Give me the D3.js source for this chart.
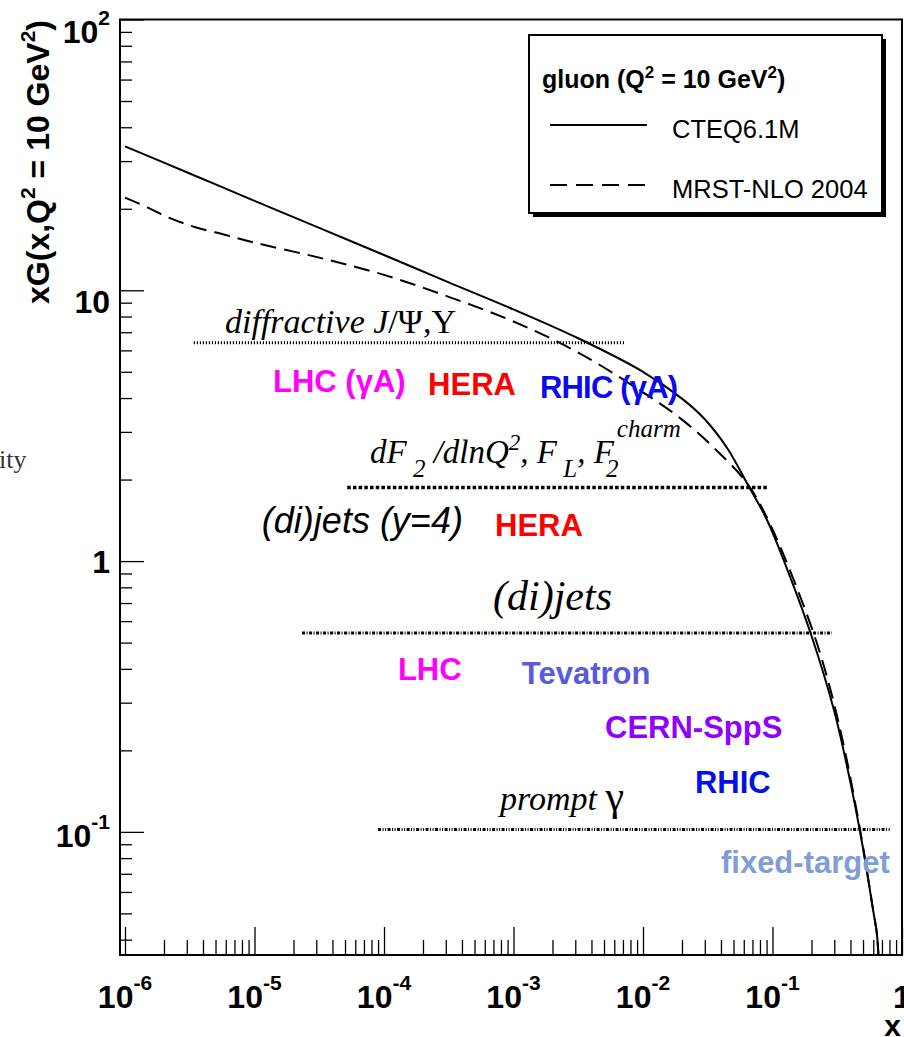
<!DOCTYPE html>
<html><head><meta charset="utf-8">
<script src="https://cdn.jsdelivr.net/npm/d3@7"></script>
<style>body{margin:0;background:#fff}</style>
</head><body>
<svg id="c" width="904" height="1037"></svg>
<script>
// ---------- data ----------
const cteqX = [1e-6, 3.16e-6, 1e-5, 3.16e-5, 1e-4, 3.16e-4, 1e-3, 3.16e-3, 0.01, 0.02, 0.03, 0.045, 0.065, 0.09, 0.137, 0.2, 0.3, 0.4, 0.5, 0.6, 0.64, 0.68];
const cteqV = [34.0, 27.0, 21.4, 17.0, 13.5, 10.7, 8.5, 6.65, 5.0, 3.98, 3.34, 2.60, 1.90, 1.43, 0.873, 0.53, 0.279, 0.152, 0.087, 0.051, 0.042, 0.025];
const mrstX = [1e-6, 1.5e-6, 2.2e-6, 3.5e-6, 6e-6, 1e-5, 3.16e-5, 1e-4, 3.16e-4, 1e-3, 3.16e-3, 0.01, 0.02, 0.035, 0.0635, 0.095, 0.195, 0.264, 0.35, 0.474, 0.6, 0.64, 0.68];
const mrstV = [22.0, 20.2, 18.5, 17.1, 16.0, 15.0, 13.2, 11.4, 9.46, 7.67, 5.89, 4.20, 3.33, 2.63, 1.94, 1.38, 0.59, 0.372, 0.215, 0.102, 0.051, 0.042, 0.025];

const bandNames = ["diffractive", "dF2", "dijets", "prompt"];
const bandXMin  = [3.4e-6, 5.2e-5, 2.33e-5, 9.0e-5];
const bandXMax  = [7.3e-3, 0.092, 0.288, 0.82];
const bandLevel = [6.4, 1.87, 0.542, 0.102];

const xMajor = [1e-6, 1e-5, 1e-4, 1e-3, 1e-2, 1e-1, 1];
const xMajorExp = ["-6", "-5", "-4", "-3", "-2", "-1", ""];
const yMajor = [100, 10, 1, 0.1];
const yMajorBase = ["10", "10", "1", "10"];
const yMajorExp = ["2", "", "", "-1"];

const labelTexts  = ["LHC (\u03B3A)", "HERA", "RHIC (\u03B3A)", "HERA", "LHC", "Tevatron", "CERN-SppS", "RHIC", "fixed-target"];
const labelColors = ["#ff00ff", "#ff0000", "#0a0af0", "#ff0000", "#ff00ff", "#5a5ade", "#9000ff", "#0010e8", "#7f9ed8"];
const labelX      = [1.39e-5, 2.19e-4, 1.6e-3, 7.2e-4, 1.28e-4, 1.16e-3, 5.09e-3, 0.0252, 0.040];
const labelV      = [4.21, 4.10, 4.00, 1.24, 0.363, 0.351, 0.222, 0.139, 0.0703];

// ---------- layout ----------
const svg = d3.select("#c");
const L = 120, R = 902, T = 19.5, B = 955;
const x = d3.scaleLog().domain([1e-6, 1]).range([125, 902]);
const y = d3.scaleLog().domain([0.0351, 100]).range([B, T]);

svg.append("defs").append("clipPath").attr("id", "clip")
  .append("rect").attr("x", L).attr("y", T).attr("width", R - L).attr("height", B - T);

// ---------- axes ----------
const xMinor = [];
for (let e = -6; e < 0; e++) for (let k = 2; k <= 9; k++) xMinor.push(k * Math.pow(10, e));
const yMinor = [];
for (let e = -2; e < 2; e++) for (let k = 2; k <= 9; k++) { const v = k * Math.pow(10, e); if (v > 0.0351) yMinor.push(v); }

function styleAxis(g) { g.select(".domain").remove(); g.selectAll("line").attr("stroke", "#000").attr("stroke-width", 1.3); }
svg.append("g").attr("transform", `translate(0,${B})`)
  .call(d3.axisBottom(x).tickValues(xMinor).tickSize(-15).tickFormat("")).call(styleAxis);
svg.append("g").attr("transform", `translate(0,${B})`)
  .call(d3.axisBottom(x).tickValues(xMajor).tickSize(-28).tickFormat("")).call(styleAxis);
svg.append("g").attr("transform", `translate(${L},0)`)
  .call(d3.axisLeft(y).tickValues(yMinor).tickSize(-12).tickFormat("")).call(styleAxis);
svg.append("g").attr("transform", `translate(${L},0)`)
  .call(d3.axisLeft(y).tickValues(yMajor).tickSize(-24).tickFormat("")).call(styleAxis);

svg.append("rect").attr("x", L).attr("y", T).attr("width", R - L).attr("height", B - T)
  .attr("fill", "none").attr("stroke", "#000").attr("stroke-width", 2);

// x tick labels
const font = "'Liberation Sans', Arial, sans-serif";
xMajor.forEach((v, i) => {
  const t = svg.append("text").attr("x", x(v)).attr("y", 1008).attr("text-anchor", "middle")
    .attr("font-family", font).attr("font-weight", "bold").attr("font-size", 32);
  if (xMajorExp[i] === "") { t.text("1"); }
  else { t.append("tspan").text("10"); t.append("tspan").attr("font-size", 21).attr("dy", -18).text(xMajorExp[i]); }
});
// y tick labels
const yLabelShift = [23, 23, 12, 15];
yMajor.forEach((v, i) => {
  const t = svg.append("text").attr("x", 110).attr("y", y(v) + yLabelShift[i]).attr("text-anchor", "end")
    .attr("font-family", font).attr("font-weight", "bold").attr("font-size", 32);
  t.append("tspan").text(yMajorBase[i]);
  if (yMajorExp[i]) t.append("tspan").attr("font-size", 21).attr("dy", -18).text(yMajorExp[i]);
});
// axis titles
svg.append("text").attr("x", 901).attr("y", 1036).attr("text-anchor", "end")
  .attr("font-family", font).attr("font-weight", "bold").attr("font-size", 30).text("x");
const yt = svg.append("text").attr("transform", "translate(49,20) rotate(-90)").attr("text-anchor", "end")
  .attr("font-family", font).attr("font-weight", "bold").attr("font-size", 32);
yt.append("tspan").text("xG(x,Q");
yt.append("tspan").attr("font-size", 21).attr("dy", -14).text("2");
yt.append("tspan").attr("dy", 14).text(" = 10 GeV");
yt.append("tspan").attr("font-size", 21).attr("dy", -14).text("2");
yt.append("tspan").attr("dy", 14).text(")");

// ---------- bands ----------
const bandDash = ["1.2,1.8", "3.5,2.2", "3,1.5,1,1.5", "3,1.5,1,1.5,1,1.5"];
const bandWidth = [3, 3.5, 3, 3];
bandNames.forEach((n, i) => {
  svg.append("line").attr("x1", x(bandXMin[i])).attr("x2", x(bandXMax[i]))
    .attr("y1", y(bandLevel[i])).attr("y2", y(bandLevel[i]))
    .attr("stroke", "#000").attr("stroke-width", bandWidth[i]).attr("stroke-dasharray", bandDash[i]);
});

// ---------- curves ----------
const line = d3.line().x(d => x(d[0])).y(d => y(d[1])).curve(d3.curveCatmullRom.alpha(0.5));
const gc = svg.append("g").attr("clip-path", "url(#clip)");
gc.append("path").attr("d", line(cteqX.map((v, i) => [v, cteqV[i]])))
  .attr("fill", "none").attr("stroke", "#000").attr("stroke-width", 2);
gc.append("path").attr("d", line(mrstX.map((v, i) => [v, mrstV[i]])))
  .attr("fill", "none").attr("stroke", "#000").attr("stroke-width", 2).attr("stroke-dasharray", "16,8");

// ---------- annotation text ----------
const serif = "'Liberation Serif', 'Times New Roman', serif";
svg.append("text").attr("x", x(5.92e-6)).attr("y", y(6.95)).attr("font-family", serif).attr("font-size", 34)
  .html('<tspan font-style="italic">diffractive J</tspan>/\u03A8,\u03A5');
// dF2/dlnQ2, FL, F2charm
const df = svg.append("text").attr("x", x(7.8e-5)).attr("y", y(2.30)).attr("font-family", serif)
  .attr("font-size", 33).attr("font-style", "italic");
df.append("tspan").text("dF");
df.append("tspan").attr("font-size", 25).attr("dy", 14).text(" 2");
df.append("tspan").attr("dy", -14).text(" /dlnQ");
df.append("tspan").attr("font-size", 23).attr("dy", -13).text("2");
df.append("tspan").attr("dy", 13).text(", F");
df.append("tspan").attr("font-size", 25).attr("dy", 14).text(" L");
df.append("tspan").attr("dy", -14).text(", F");
df.append("tspan").attr("font-size", 25).attr("dy", -26).attr("dx", 3).text("charm");
svg.append("text").attr("x", x(7.8e-5) + 236).attr("y", y(2.30) + 14).attr("font-family", serif)
  .attr("font-size", 25).attr("font-style", "italic").text("2");

svg.append("text").attr("x", x(1.14e-5)).attr("y", y(1.27)).attr("font-family", font)
  .attr("font-size", 36).attr("font-style", "italic").text("(di)jets (y=4)");
svg.append("text").attr("x", x(6.95e-4)).attr("y", y(0.659)).attr("font-family", serif)
  .attr("font-size", 42).attr("font-style", "italic").text("(di)jets");
svg.append("text").attr("x", x(7.87e-4)).attr("y", y(0.120)).attr("font-family", serif)
  .attr("font-size", 34).html('<tspan font-style="italic">prompt</tspan> <tspan font-size="42">\u03B3</tspan>');

labelTexts.forEach((t, i) => {
  svg.append("text").attr("x", x(labelX[i])).attr("y", y(labelV[i])).attr("font-family", font)
    .attr("font-weight", "bold").attr("font-size", 31).attr("fill", labelColors[i])
    .attr("letter-spacing", t.indexOf("RHIC (") === 0 ? -0.8 : 0).text(t);
});

// stray fragment at left margin
svg.append("text").attr("x", -1).attr("y", 468).attr("font-family", serif).attr("font-size", 26)
  .attr("fill", "#333").text("ity");

// ---------- legend ----------
const lg = svg.append("g");
lg.append("rect").attr("x", 533).attr("y", 39).attr("width", 353).attr("height", 178).attr("fill", "#000");
lg.append("rect").attr("x", 529).attr("y", 35).attr("width", 353).attr("height", 178)
  .attr("fill", "#fff").attr("stroke", "#000").attr("stroke-width", 2);
const lt = lg.append("text").attr("x", 542).attr("y", 88).attr("font-family", font)
  .attr("font-weight", "bold").attr("font-size", 25);
lt.append("tspan").text("gluon (Q");
lt.append("tspan").attr("font-size", 17).attr("dy", -10).text("2");
lt.append("tspan").attr("dy", 10).text(" = 10 GeV");
lt.append("tspan").attr("font-size", 17).attr("dy", -10).text("2");
lt.append("tspan").attr("dy", 10).text(")");
const legNames = ["CTEQ6.1M", "MRST-NLO 2004"];
const legDash = [null, "17,9"];
legNames.forEach((n, i) => {
  const yy = 125 + i * 60;
  lg.append("line").attr("x1", 550).attr("x2", 647).attr("y1", yy).attr("y2", yy)
    .attr("stroke", "#000").attr("stroke-width", 2).attr("stroke-dasharray", legDash[i]);
  lg.append("text").attr("x", 672).attr("y", yy + 13).attr("font-family", font).attr("font-size", 25.5).text(n);
});
</script>
</body></html>
